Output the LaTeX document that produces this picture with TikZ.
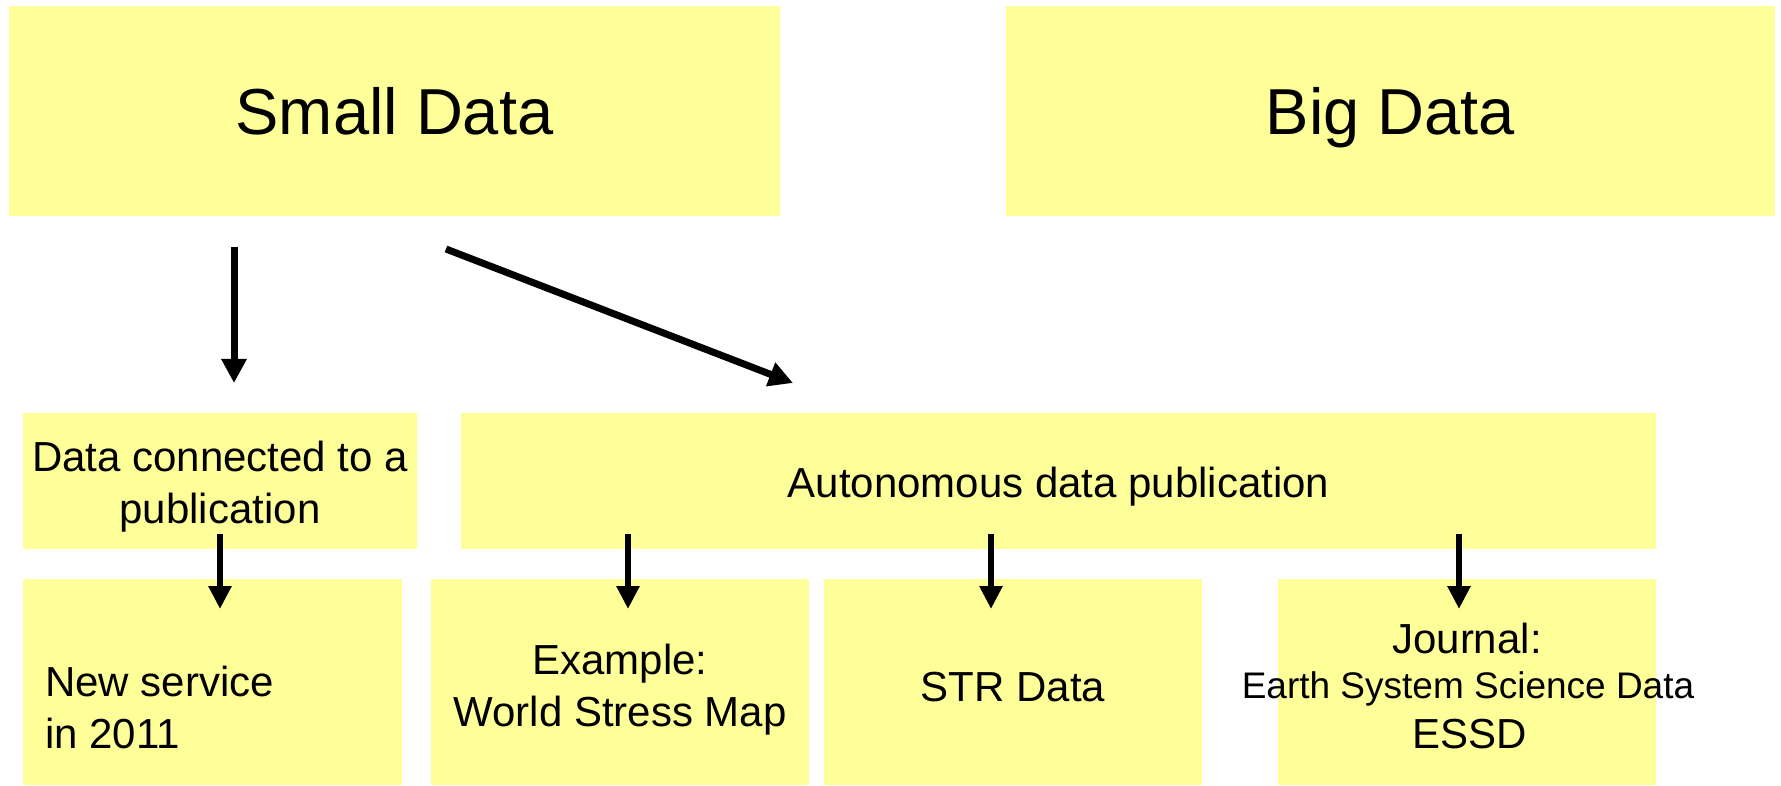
\documentclass[tikz,border=0pt]{standalone}
\usepackage{fontspec}
\setmainfont{Liberation Sans}
\usetikzlibrary{arrows.meta}
\definecolor{boxyellow}{RGB}{255,255,153}

\begin{document}
\begin{tikzpicture}[x=1pt,y=-1pt,
  box/.style={fill=boxyellow, draw=none, inner sep=0pt, outer sep=0pt},
  title/.style={inner sep=0pt, anchor=base, font=\fontsize{65}{78}\selectfont},
  label/.style={inner sep=0pt, anchor=base, align=center, font=\fontsize{42}{52}\selectfont},
  smalllabel/.style={inner sep=0pt, anchor=base, font=\fontsize{37}{44}\selectfont},
  bigarrow/.style={line width=7pt, -{Triangle[width=24pt,length=24pt]}},
  smallarrow/.style={line width=6pt, -{Triangle[width=22pt,length=23pt]}}]

\useasboundingbox (0,0) rectangle (1781,786);

% top row
\node[box, minimum width=771pt, minimum height=210pt] (small) at (394.5,111) {};
\node[box, minimum width=769pt, minimum height=210pt] (big) at (1390.5,111) {};
\node[title] (smalltxt) at (394.5,135) {Small Data};
\node[title] (bigtxt) at (1390.5,135) {Big Data};

% middle row (multi-line labels sit on the baseline of their last line)
\node[box, minimum width=394pt, minimum height=136pt] (linked) at (220,481) {};
\node[box, minimum width=1195pt, minimum height=136pt] (auto) at (1058.5,481) {};
\node[label] (linkedtxt) at (220,523) {Data connected to a\\publication};
\node[label] (autotxt) at (1058.5,497) {Autonomous data publication};

% bottom row
\node[box, minimum width=379pt, minimum height=206pt] (service) at (212.5,682) {};
\node[box, minimum width=378pt, minimum height=206pt] (example) at (620,682) {};
\node[box, minimum width=378pt, minimum height=206pt] (str) at (1013,682) {};
\node[box, minimum width=378pt, minimum height=206pt] (journal) at (1467,682) {};

\node[label, align=left, anchor=base west] (servicetxt) at (45,748) {New service\\in 2011};
\node[label] (exampletxt) at (620,726) {Example:\\World Stress Map};
\node[label] (strtxt) at (1013,701) {STR Data};
\node[label] (journaltxt) at (1467,653) {Journal:};
\node[smalllabel] (essdname) at (1468,698) {Earth System Science Data};
\node[label] (essdtxt) at (1470,748) {ESSD};

% arrow end points
\coordinate (a1s) at (234,247);
\coordinate (a1e) at (234,383);
\coordinate (a2s) at (446,249);
\coordinate (a2e) at (793,383);
\coordinate (b1s) at (220,534);
\coordinate (b1e) at (220,609);
\coordinate (b2s) at (628,534);
\coordinate (b2e) at (628,609);
\coordinate (b3s) at (991,534);
\coordinate (b3e) at (991,609);
\coordinate (b4s) at (1459,534);
\coordinate (b4e) at (1459,609);

\draw[bigarrow] (a1s) -- (a1e);
\draw[bigarrow] (a2s) -- (a2e);
\draw[smallarrow] (b1s) -- (b1e);
\draw[smallarrow] (b2s) -- (b2e);
\draw[smallarrow] (b3s) -- (b3e);
\draw[smallarrow] (b4s) -- (b4e);
\end{tikzpicture}
\end{document}
